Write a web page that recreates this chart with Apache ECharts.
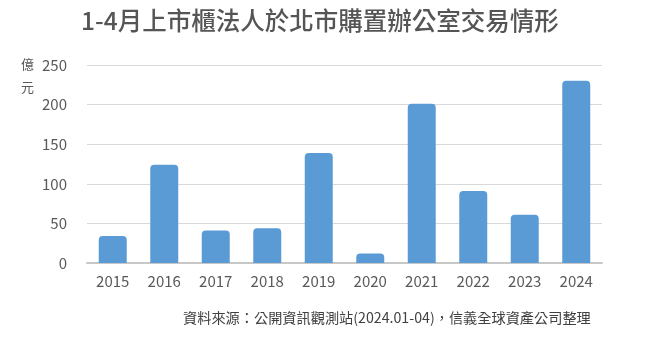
<!DOCTYPE html>
<html><head><meta charset="utf-8">
<script src="https://cdn.jsdelivr.net/npm/echarts@6/dist/echarts.min.js"></script>
<style>html,body{margin:0;padding:0;background:#fff}#c{width:660px;height:342px}</style>
</head><body><div id="c"></div>
<script>
const categories = ['2015','2016','2017','2018','2019','2020','2021','2022','2023','2024'];
const values = [34, 124, 41, 44, 139, 12, 201, 91, 61, 230];
const yTicks = [0, 50, 100, 150, 200, 250];
const titleText = '1-4月上市櫃法人於北市購置辦公室交易情形';
const unitText = ['億', '元'];
const sourceText = '資料來源：公開資訊觀測站(2024.01-04)，信義全球資產公司整理';

const FONT = '"Noto Sans CJK TC", "Noto Sans", sans-serif';
const chart = echarts.init(document.getElementById('c'));
chart.setOption({
  backgroundColor: '#fff',
  animation: false,
  title: {
    text: titleText, left: 76, top: 3,
    textStyle: { fontFamily: FONT, fontSize: 24.5, fontWeight: 500, color: '#555555' }
  },
  grid: { left: 87, width: 515, top: 65, height: 198 },
  xAxis: {
    type: 'category', data: categories,
    axisLine: { lineStyle: { color: '#c8c8c8', width: 2 } },
    axisTick: { show: false },
    axisLabel: { fontFamily: FONT, fontSize: 15, color: '#595959', margin: 11 }
  },
  yAxis: {
    type: 'value', min: yTicks[0], max: yTicks[yTicks.length - 1], interval: 50,
    axisLine: { show: false }, axisTick: { show: false },
    splitLine: { lineStyle: { color: '#d9d9d9', width: 1 } },
    axisLabel: { fontFamily: FONT, fontSize: 15, color: '#595959', margin: 20 }
  },
  series: [{
    type: 'bar', data: values, barWidth: 28,
    itemStyle: { color: '#5b9bd5', borderRadius: [4, 4, 0, 0] }
  }],
  graphic: [
    { type: 'text', left: 21, top: 58, style: { text: unitText[0], font: '13px ' + FONT, fill: '#595959' } },
    { type: 'text', left: 21, top: 81, style: { text: unitText[1], font: '13px ' + FONT, fill: '#595959' } },
    { type: 'text', left: 183, top: 311, style: { text: sourceText, font: '14.2px ' + FONT, fill: '#404040' } }
  ]
});
</script></body></html>
